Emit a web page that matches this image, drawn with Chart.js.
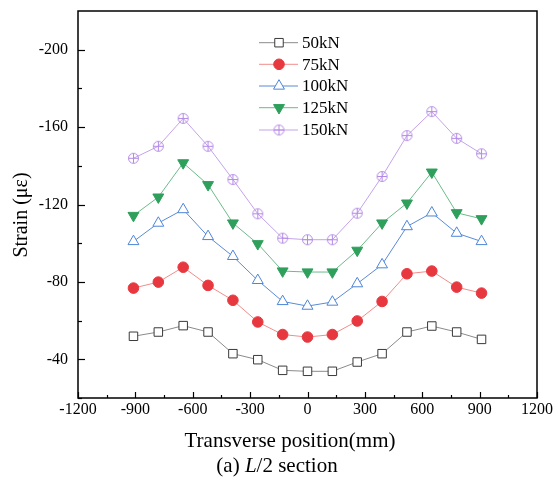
<!DOCTYPE html>
<html><head><meta charset="utf-8">
<script src="https://cdn.jsdelivr.net/npm/chart.js@4.4.1/dist/chart.umd.min.js"></script>
<style>html,body{margin:0;padding:0;background:#fff;}#wrap{width:557px;height:477px;position:relative;}</style>
</head><body><div id="wrap"><canvas id="c" width="557" height="477"></canvas></div>
<script>
const positions = [-910,-780,-650,-520,-390,-260,-130,0,130,260,390,520,650,780,910];
const s50  = [-51.9,-54.1,-57.4,-54.1,-42.9,-39.8,-34.3,-33.8,-33.8,-38.6,-42.9,-54.1,-57.2,-54.1,-50.3];
const s75  = [-76.8,-79.9,-87.6,-78.2,-70.5,-59.3,-52.8,-51.5,-52.8,-59.8,-69.9,-84.2,-85.6,-77.3,-74.2];
const s100 = [-100.9,-110.4,-117.4,-103.5,-93.2,-80.8,-69.9,-67.5,-69.6,-79.1,-88.9,-108.6,-115.7,-105.2,-100.9];
const s125 = [-114.3,-123.8,-141.5,-130.2,-110.4,-99.7,-85.6,-85.1,-85.1,-96.3,-110.4,-120.7,-136.7,-115.7,-112.6];
const s150 = [-143.9,-150.1,-164.5,-150.1,-132.9,-115.2,-102.6,-101.8,-101.8,-115.5,-134.5,-155.6,-168,-154.2,-146.2];
const seriesNames = ['50kN','75kN','100kN','125kN','150kN'];
const xTicks = [-1200,-900,-600,-300,0,300,600,900,1200];
const yTicks = [-200,-160,-120,-80,-40];

const FONT = '"Liberation Serif","Times New Roman",serif';

function circlePlus(){
  const c = document.createElement('canvas'); c.width = 13; c.height = 13;
  const g = c.getContext('2d');
  g.strokeStyle = '#b48ae6'; g.lineWidth = 1;
  g.beginPath(); g.arc(6.5,6.5,5,0,Math.PI*2); g.stroke();
  g.beginPath(); g.moveTo(6.5,1.5); g.lineTo(6.5,11.5); g.moveTo(1.5,6.5); g.lineTo(11.5,6.5); g.stroke();
  return c;
}
const cp = circlePlus();

const styles = [
  {line:'#8a8a8a', stroke:'#3a3a3a', fill:'#ffffff', style:'rect', r:6, rot:0},
  {line:'#f28b8b', stroke:'#e8383f', fill:'#e8383f', style:'circle', r:5.3, rot:0},
  {line:'#5a8ad8', stroke:'#4d85da', fill:'#ffffff', style:'triangle', r:6.3, rot:0},
  {line:'#6cbb89', stroke:'#2f9f5c', fill:'#2f9f5c', style:'triangle', r:6.3, rot:180},
  {line:'#c3a3ec', stroke:'#b48ae6', fill:'#ffffff', style:cp, r:6, rot:0}
];
const vals = [s50,s75,s100,s125,s150];
const datasets = vals.map((v,i)=>({
  label: seriesNames[i],
  data: positions.map((x,j)=>({x:x,y:v[j]})),
  borderColor: styles[i].line, borderWidth: 1,
  pointStyle: styles[i].style, pointRadius: styles[i].r, pointRotation: styles[i].rot,
  pointBackgroundColor: styles[i].fill, pointBorderColor: styles[i].stroke, pointBorderWidth: 1,
  showLine: true, tension: 0
}));

function drawMarker(ctx, i, x, y){
  const s = styles[i];
  Chart.helpers.drawPoint(ctx, {pointStyle: s.style, radius: s.r, rotation: s.rot, borderWidth:1}, x, y);
}

const deco = {
  id:'deco',
  afterDraw(chart){
    const ctx = chart.ctx, a = chart.chartArea, xs = chart.scales.x, ys = chart.scales.y;
    ctx.save();
    ctx.strokeStyle = '#000'; ctx.lineWidth = 1.5;
    ctx.strokeRect(a.left, a.top, a.right-a.left, a.bottom-a.top);
    ctx.lineWidth = 1.2;
    for (let v=-1200; v<=1200; v+=150){
      const px = Math.round(xs.getPixelForValue(v))+0.5;
      const major = (v % 300 === 0);
      ctx.beginPath(); ctx.moveTo(px, a.bottom); ctx.lineTo(px, a.bottom - (major?6:3)); ctx.stroke();
    }
    for (let v=-200; v<=-20; v+=20){
      const py = Math.round(ys.getPixelForValue(v))+0.5;
      const major = (v % 40 === 0);
      ctx.beginPath(); ctx.moveTo(a.left, py); ctx.lineTo(a.left + (major?7:4), py); ctx.stroke();
    }
    ctx.fillStyle = '#000';
    ctx.font = '16px ' + FONT;
    ctx.textAlign = 'center'; ctx.textBaseline = 'middle';
    xTicks.forEach(v=>{ ctx.fillText(String(v), xs.getPixelForValue(v), a.bottom + 12); });
    ctx.textAlign = 'right';
    yTicks.forEach(v=>{ ctx.fillText(String(v), a.left - 10, ys.getPixelForValue(v)); });
    ctx.font = '21px ' + FONT;
    ctx.textAlign = 'center';
    ctx.fillText('Transverse position(mm)', 290, 441);
    ctx.save(); ctx.translate(22, 215); ctx.rotate(-Math.PI/2);
    ctx.font = '20px ' + FONT;
    ctx.fillText('Strain (\u03bc\u03b5)', 0, 0); ctx.restore();
    ctx.textAlign = 'left';
    const parts = [['(a) ', ''], ['L', 'italic '], ['/2 section', '']];
    let tw = 0;
    parts.forEach(p=>{ ctx.font = p[1] + '21px ' + FONT; tw += ctx.measureText(p[0]).width; });
    let cx = 277 - tw/2;
    parts.forEach(p=>{ ctx.font = p[1] + '21px ' + FONT; ctx.fillText(p[0], cx, 466); cx += ctx.measureText(p[0]).width; });
    ctx.font = '17px ' + FONT;
    ctx.textAlign = 'left';
    const rows = [42.7, 64.3, 86, 107.7, 130];
    seriesNames.forEach((n,i)=>{
      const y = rows[i];
      ctx.strokeStyle = styles[i].line; ctx.lineWidth = 1;
      ctx.beginPath(); ctx.moveTo(259, y); ctx.lineTo(298, y); ctx.stroke();
      ctx.fillStyle = styles[i].fill; ctx.strokeStyle = styles[i].stroke;
      drawMarker(ctx, i, 279, y);
      ctx.fillStyle = '#000';
      ctx.fillText(n, 302, y + 1);
    });
    ctx.restore();
  }
};

new Chart(document.getElementById('c'), {
  type:'scatter',
  data:{datasets},
  options:{
    responsive:false, animation:false, devicePixelRatio:1,
    layout:{padding:{left:78, right:20, top:11, bottom:79}},
    plugins:{legend:{display:false}, tooltip:{enabled:false}},
    scales:{
      x:{type:'linear', min:-1200, max:1200, display:false},
      y:{type:'linear', min:-220, max:-20, reverse:true, display:false}
    }
  },
  plugins:[deco]
});
</script></body></html>
